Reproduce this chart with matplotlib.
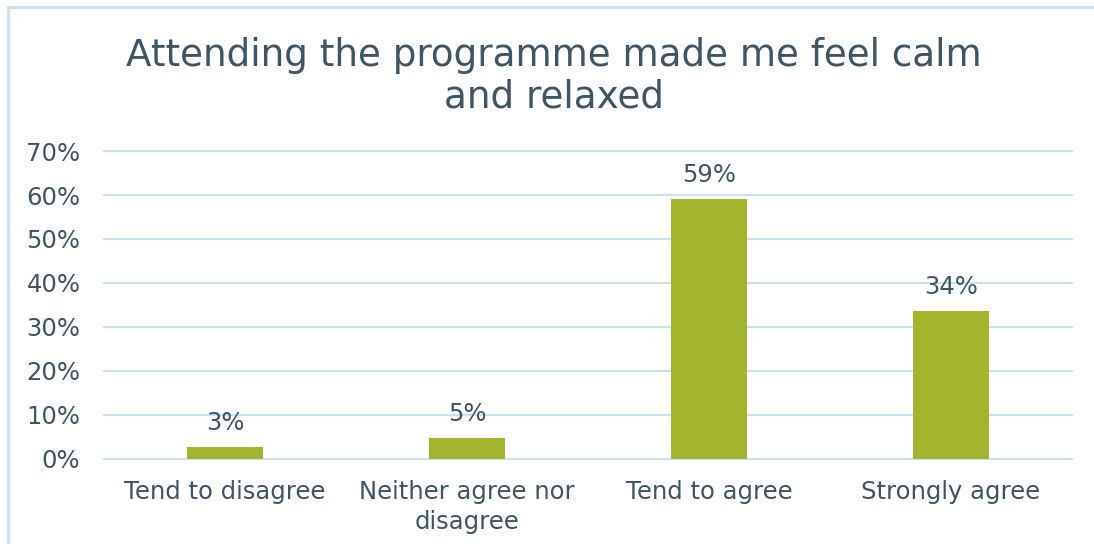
import matplotlib.pyplot as plt
from matplotlib.lines import Line2D
import numpy as np

# data
categories = ["Tend to disagree", "Neither agree nor\ndisagree", "Tend to agree", "Strongly agree"]
values = [2.7, 4.7, 59.1, 33.6]
yticks = [0, 10, 20, 30, 40, 50, 60, 70]

text_col = "#3F5564"
bar_col = "#A3B52D"
grid_col = "#C8E1F3"

plt.rcParams['font.family'] = ['DejaVu Sans']

fig = plt.figure(figsize=(10.94, 5.44), dpi=100)
ax = fig.add_axes([104 / 1094, 85 / 544, 968 / 1094, 308 / 544])

x = np.arange(len(categories))
ax.bar(x, values, width=0.315, color=bar_col, zorder=3)

for xi, v in zip(x, values):
    ax.annotate("{:.0f}%".format(v), (xi, v), xytext=(0, 12), textcoords='offset pixels',
                ha='center', va='bottom', fontsize=17.5, color=text_col)

ax.set_xlim(-0.5, len(categories) - 0.5)
ax.set_ylim(0, 70)
ax.set_yticks(yticks)
ax.set_yticklabels(["{}%".format(t) for t in yticks])
ax.set_xticks(x)
ax.set_xticklabels(categories, linespacing=1.3)
ax.tick_params(axis='both', length=0, labelsize=17.5, colors=text_col)
ax.tick_params(axis='y', pad=17)
ax.tick_params(axis='x', pad=15)
ax.grid(axis='y', color=grid_col, linewidth=1.5, zorder=0)
for gl in ax.get_ygridlines():
    gl.set_clip_on(False)
for s in ax.spines.values():
    s.set_visible(False)

fig.text(0.506, 0.86, "Attending the programme made me feel calm\nand relaxed",
         ha='center', va='center', fontsize=26.8, color=text_col, linespacing=1.18)

# chart frame (only left and top edges visible in the crop)
fig.add_artist(Line2D([7.5 / 1094, 7.5 / 1094], [0, 1 - 6.5 / 544], transform=fig.transFigure,
                      color=grid_col, linewidth=2))
fig.add_artist(Line2D([7.5 / 1094, 1], [1 - 6.5 / 544, 1 - 6.5 / 544], transform=fig.transFigure,
                      color=grid_col, linewidth=2))

fig.savefig("out.png", dpi=100)
